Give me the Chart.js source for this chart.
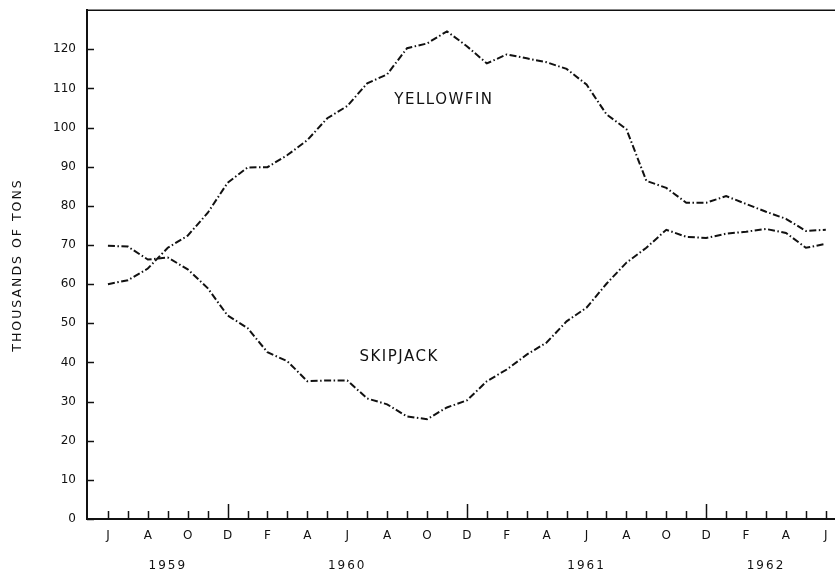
<!DOCTYPE html>
<html>
<head>
<meta charset="utf-8">
<script src="https://cdn.jsdelivr.net/npm/chart.js@4.4.1/dist/chart.umd.min.js"></script>
<style>
  html, body { margin: 0; padding: 0; background: #fff; }
  #wrap { width: 835px; height: 573px; }
</style>
</head>
<body>
<div id="wrap"><canvas id="chart" width="835" height="573"></canvas></div>
<script>
// Monthly catch, June 1959 – June 1962 (thousands of tons)
const monthLabels = [
  'J', '', 'A', '', 'O', '', 'D', '', 'F', '', 'A', '',
  'J', '', 'A', '', 'O', '', 'D', '', 'F', '', 'A', '',
  'J', '', 'A', '', 'O', '', 'D', '', 'F', '', 'A', '',
  'J'
];
const yearLabels = ['1959', '1960', '1961', '1962'];
const yearTickIndex = [3, 12, 24, 33];
const yearEndIndex = [6, 18, 30];   // December ticks drawn taller

const yellowfin = [
  60, 61, 64, 69.3, 72.4, 78.2, 85.9, 89.8, 89.9, 93, 96.8, 102.4,
  105.5, 111.3, 113.6, 120.3, 121.5, 124.6, 120.8, 116.4, 118.7, 117.7, 116.7, 115,
  111, 103.4, 99.6, 86.4, 84.6, 80.8, 80.8, 82.5, 80.5, 78.5, 76.7, 73.6,
  73.9
];
const skipjack = [
  69.8, 69.6, 66.3, 66.8, 63.8, 59, 52, 48.8, 42.6, 40.3, 35.2, 35.4,
  35.4, 30.8, 29.3, 26.2, 25.5, 28.5, 30.3, 35.2, 38.2, 42, 45.1, 50.5,
  54, 60.1, 65.5, 69.3, 73.9, 72.1, 71.8, 72.9, 73.4, 74.1, 73.1, 69.3,
  70.3
];
const yTicks = [0, 10, 20, 30, 40, 50, 60, 70, 80, 90, 100, 110, 120];

const INK = '#111';
const FONT = '"DejaVu Sans", sans-serif';
const dashDot = [7, 2.5, 1.5, 2.5];

function toPoints(arr) {
  return arr.map((v, i) => ({ x: i, y: v }));
}

// ── custom drawing: inward ticks, top frame line, years, series names, axis title ──
const decorPlugin = {
  id: 'decor',
  afterDraw(chart) {
    const { ctx, chartArea } = chart;
    const xs = chart.scales.x;
    const ys = chart.scales.y;
    ctx.save();
    ctx.strokeStyle = INK;
    ctx.fillStyle = INK;

    // top frame
    ctx.lineWidth = 1.5;
    ctx.beginPath();
    ctx.moveTo(chartArea.left, chartArea.top);
    ctx.lineTo(chartArea.right, chartArea.top);
    ctx.stroke();

    // x ticks pointing up
    ctx.lineWidth = 1.5;
    monthLabels.forEach((_, i) => {
      const px = Math.round(xs.getPixelForValue(i)) + 0.5;
      const len = yearEndIndex.includes(i) ? 15 : 8;
      ctx.beginPath();
      ctx.moveTo(px, chartArea.bottom);
      ctx.lineTo(px, chartArea.bottom - len);
      ctx.stroke();
    });

    // y ticks pointing right
    yTicks.forEach(v => {
      const py = Math.round(ys.getPixelForValue(v)) + 0.5;
      ctx.beginPath();
      ctx.moveTo(chartArea.left, py);
      ctx.lineTo(chartArea.left + 7, py);
      ctx.stroke();
    });

    ctx.textAlign = 'center';
    ctx.textBaseline = 'middle';

    // year labels
    ctx.font = '12px ' + FONT;
    ctx.letterSpacing = '2px';
    yearLabels.forEach((t, k) => {
      ctx.fillText(t, xs.getPixelForValue(yearTickIndex[k]), 566);
    });

    // series names
    ctx.font = '15px ' + FONT;
    ctx.letterSpacing = '1.5px';
    ctx.fillText('YELLOWFIN', xs.getPixelForValue(16.85), 100);
    ctx.fillText('SKIPJACK', xs.getPixelForValue(14.6), 357);

    // axis title
    ctx.font = '12.5px ' + FONT;
    ctx.letterSpacing = '2px';
    ctx.translate(18, 265);
    ctx.rotate(-Math.PI / 2);
    ctx.fillText('THOUSANDS OF TONS', 0, 0);
    ctx.restore();
  }
};

const chart = new Chart(document.getElementById('chart'), {
  type: 'line',
  data: {
    datasets: [
      {
        label: 'Yellowfin',
        data: toPoints(yellowfin),
        borderColor: INK,
        borderWidth: 2,
        borderDash: dashDot,
        pointRadius: 0,
        tension: 0,
        fill: false
      },
      {
        label: 'Skipjack',
        data: toPoints(skipjack),
        borderColor: INK,
        borderWidth: 2,
        borderDash: dashDot,
        pointRadius: 0,
        tension: 0,
        fill: false
      }
    ]
  },
  options: {
    responsive: false,
    animation: false,
    layout: { padding: { top: 0, left: 0, right: 0, bottom: 0 } },
    plugins: {
      legend: { display: false },
      tooltip: { enabled: false }
    },
    scales: {
      x: {
        type: 'linear',
        min: -1.05,
        max: 36.46,
        grid: { display: false },
        border: { display: true, color: INK, width: 2 },
        afterBuildTicks: s => { s.ticks = monthLabels.map((_, i) => ({ value: i })); },
        afterFit: s => { s.height = 54; },
        ticks: {
          autoSkip: false,
          maxRotation: 0,
          padding: 2,
          color: INK,
          font: { family: FONT, size: 12 },
          callback: v => monthLabels[v] ?? ''
        }
      },
      y: {
        min: 0,
        max: 130,
        grid: { display: false },
        border: { display: true, color: INK, width: 2 },
        afterBuildTicks: s => { s.ticks = yTicks.map(v => ({ value: v })); },
        afterFit: s => { s.width = 87; },
        ticks: {
          padding: 3,
          color: INK,
          font: { family: FONT, size: 12 }
        }
      }
    }
  },
  plugins: [decorPlugin]
});
</script>
</body>
</html>
